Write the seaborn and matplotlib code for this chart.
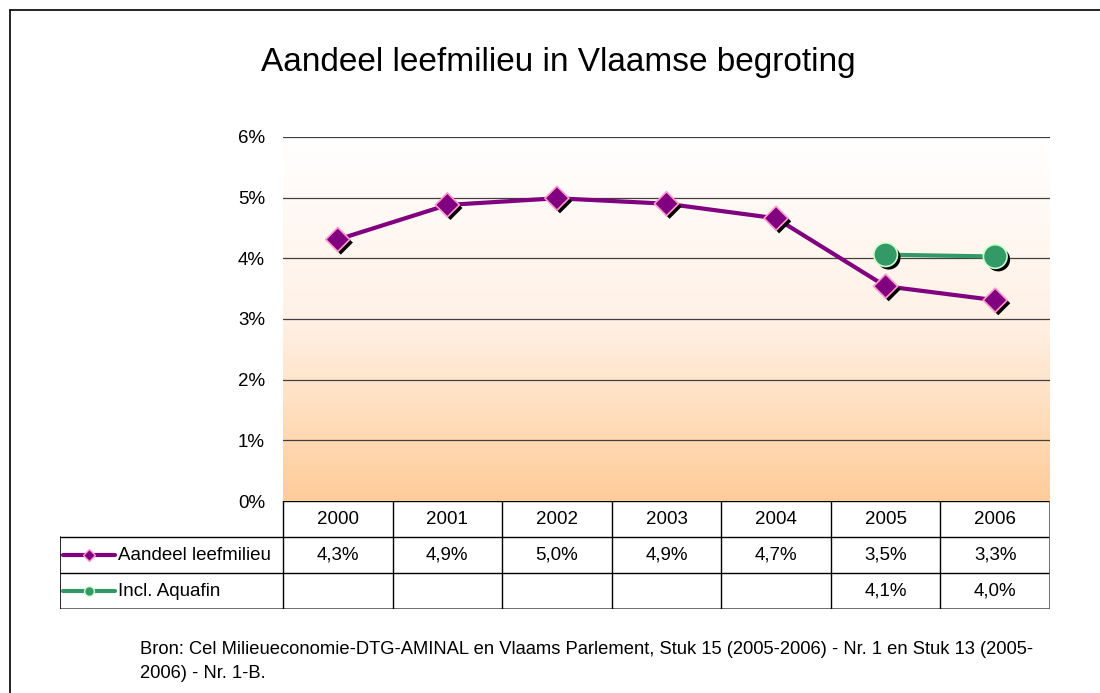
import numpy as np
import pandas as pd
import matplotlib
matplotlib.use('Agg')
import matplotlib.pyplot as plt
import matplotlib.patheffects as pe
from matplotlib.lines import Line2D
from matplotlib.colors import LinearSegmentedColormap
import seaborn as sns

# Data
years = ['2000', '2001', '2002', '2003', '2004', '2005', '2006']
aandeel = [4.31, 4.88, 4.99, 4.90, 4.66, 3.54, 3.31]
aquafin_years = ['2005', '2006']
aquafin = [4.06, 4.03]
series_names = ['Aandeel leefmilieu', 'Incl. Aquafin']
yticks = [0, 1, 2, 3, 4, 5, 6]
title = 'Aandeel leefmilieu in Vlaamse begroting'
source = ('Bron: Cel Milieueconomie-DTG-AMINAL en Vlaams Parlement, Stuk 15 (2005-2006) - Nr. 1 en Stuk 13 (2005-\n'
          '2006) - Nr. 1-B.')

purple = '#800080'
pink = '#FF99CC'
green = '#339966'
lightgreen = '#CCFFCC'

sns.set_theme(style='white')
plt.rcParams['font.family'] = ['Liberation Sans', 'DejaVu Sans']
plt.rcParams['text.color'] = 'black'
plt.rcParams['ytick.color'] = 'black'

W, H = 1100, 693
fig = plt.figure(figsize=(W / 100, H / 100), dpi=100)
fig.patch.set_facecolor('white')

def fx(px):
    return px / W

def fy(py):
    return 1 - py / H

# outer frame (left + top)
fig.add_artist(Line2D([fx(10), fx(10)], [fy(10), fy(693)], color='black', lw=1.2))
fig.add_artist(Line2D([fx(10), fx(1100)], [fy(10), fy(10)], color='black', lw=1.2))

# main plot area
left, right, top, bottom = 283, 1050, 137, 501
ax = fig.add_axes([fx(left), fy(bottom), fx(right - left), (bottom - top) / H])

df = pd.DataFrame({'year': years, 'value': aandeel})
df_aq = pd.DataFrame({'year': aquafin_years, 'value': aquafin})
xpos = {y: i for i, y in enumerate(years)}
df['x'] = df['year'].map(xpos)
df_aq['x'] = df_aq['year'].map(xpos)

# gradient background
cmap = LinearSegmentedColormap.from_list('bg', ['#FFFFFF', '#FFF1E6', '#FFCC99'])
grad = np.linspace(0, 1, 256).reshape(-1, 1)
ax.imshow(grad, cmap=cmap, aspect='auto', extent=[-0.5, 6.5, 0, 6], origin='upper', zorder=0)

for t in yticks[1:]:
    ax.axhline(t, color='#404040', lw=0.9, zorder=1)

sns.lineplot(data=df, x='x', y='value', color=purple, lw=3, ax=ax, zorder=3)
sns.lineplot(data=df_aq, x='x', y='value', color=green, lw=3, ax=ax, zorder=3)

shadow = [pe.SimplePatchShadow(offset=(2.2, -2.2), shadow_rgbFace='black', alpha=1), pe.Normal()]
sns.scatterplot(data=df, x='x', y='value', marker='D', s=150, color=purple,
                edgecolor=pink, linewidth=1.2, ax=ax, zorder=4, path_effects=shadow)
sns.scatterplot(data=df_aq, x='x', y='value', marker='o', s=290, color=green,
                edgecolor=lightgreen, linewidth=1.2, ax=ax, zorder=4, path_effects=shadow)

ax.set_xlim(-0.5, 6.5)
ax.set_ylim(0, 6)
ax.set_xticks([])
ax.set_yticks(yticks)
ax.set_yticklabels([f'{t}%' for t in yticks], fontsize=13.5)
ax.tick_params(axis='y', length=0, pad=13)
ax.set_xlabel('')
ax.set_ylabel('')
for s in ax.spines.values():
    s.set_visible(False)
ax.set_facecolor('white')

fig.text(fx(558), fy(62), title, ha='center', va='center', fontsize=24)

# data table below the plot
tleft, tbottom = 60, 609
tab = fig.add_axes([fx(tleft), fy(tbottom), fx(right - tleft), (tbottom - bottom) / H])
colw = (right - left) / len(years)
xmin = -0.5 - (left - tleft) / colw
tab.set_xlim(xmin, 6.5)
tab.set_ylim(3, 0)
tab.axis('off')

lc = 'black'
tab.plot([-0.5, 6.5], [0, 0], color=lc, lw=1)
tab.plot([xmin, 6.5], [1, 1], color=lc, lw=1)
tab.plot([xmin, 6.5], [2, 2], color=lc, lw=1)
tab.plot([xmin, 6.5], [3, 3], color='#606060', lw=2)
tab.plot([xmin, xmin], [1, 3], color=lc, lw=1.2)
for i in range(len(years)):
    tab.plot([i - 0.5, i - 0.5], [0, 3], color=lc, lw=1)
tab.plot([6.5, 6.5], [0, 3], color='#606060', lw=2)

fs = 13.5
for i, y in enumerate(years):
    tab.text(i, 0.5, y, ha='center', va='center', fontsize=fs)
for _, r in df.iterrows():
    tab.text(r['x'], 1.5, f"{r['value']:.1f}%".replace('.', ','), ha='center', va='center', fontsize=fs)
for _, r in df_aq.iterrows():
    tab.text(r['x'], 2.5, f"{r['value']:.1f}%".replace('.', ','), ha='center', va='center', fontsize=fs)

# legend keys in the row headers
k0 = xmin + 3 / colw
k1 = xmin + 55 / colw
km = (k0 + k1) / 2
tab.plot([k0, k1], [1.5, 1.5], color=purple, lw=3, solid_capstyle='round')
tab.plot([km], [1.5], marker='D', ms=6, color=purple, mec=pink, mew=1)
tab.plot([k0, k1], [2.5, 2.5], color=green, lw=3, solid_capstyle='round')
tab.plot([km], [2.5], marker='o', ms=7, color=green, mec=lightgreen, mew=1)
tab.text(xmin + 58 / colw, 1.5, series_names[0], ha='left', va='center', fontsize=13.5)
tab.text(xmin + 58 / colw, 2.5, series_names[1], ha='left', va='center', fontsize=13.5)

fig.text(fx(140), fy(641), source, ha='left', va='top', fontsize=13.2, linespacing=1.5)

fig.savefig('out.png', dpi=100)
